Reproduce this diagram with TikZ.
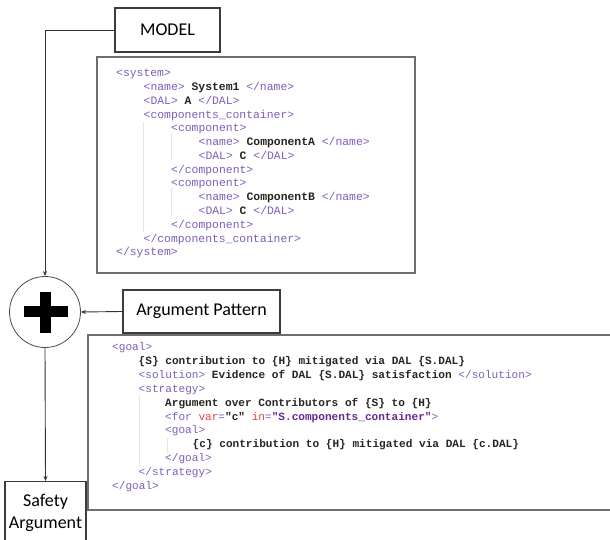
\documentclass[tikz,border=0pt]{standalone}
\usepackage{fontspec}
\setmainfont{Carlito}
\newfontfamily\codefont{Liberation Mono}
\usetikzlibrary{arrows.meta}
\definecolor{tagc}{RGB}{125,95,185}
\definecolor{txtc}{RGB}{40,36,32}
\definecolor{attrc}{RGB}{228,68,60}
\definecolor{valc}{RGB}{105,40,150}
\definecolor{boxc}{RGB}{110,110,110}
\definecolor{lblc}{RGB}{60,60,60}
\newcommand\tg[1]{\textcolor{tagc}{#1}}
\newcommand\bt[1]{\textcolor{txtc}{\bfseries #1}}
\newcommand\at[1]{\textcolor{attrc}{#1}}
\newcommand\vl[1]{\textcolor{valc}{\bfseries #1}}
\begin{document}
\begin{tikzpicture}[x=1pt,y=-1pt,
  lbl/.style={draw=lblc,line width=1.1pt,font=\fontsize{18}{20}\selectfont,fill=white},
  codeA/.style={anchor=base west,inner sep=0pt,font=\codefont\fontsize{11.4}{13}\selectfont},
  codeB/.style={anchor=base west,inner sep=0pt,font=\codefont\fontsize{11.1}{13}\selectfont},
  cbox/.style={draw=boxc,line width=1.6pt},
  guide/.style={draw=black!10,line width=0.6pt},
  conn/.style={draw=black!80,line width=0.9pt,-{Stealth[length=5pt,width=4pt]}}]
\clip (0,0) rectangle (610,540);
\fill[white] (0,0) rectangle (610,540);

% code box 1
\draw[cbox] (97,57) rectangle (415,273);
\draw[guide] (143.5,122) -- (143.5,232);
\draw[guide] (171,133) -- (171,160);
\draw[guide] (171,188) -- (171,215);
\node[codeA] (a1) at (116,77) {\tg{<system>}};
\node[codeA] (a2) at (143.5,90.75) {\tg{<name>} \bt{System1} \tg{</name>}};
\node[codeA] (a3) at (143.5,104.5) {\tg{<DAL>} \bt{A} \tg{</DAL>}};
\node[codeA] (a4) at (143.5,118.25) {\tg{<components\_container>}};
\node[codeA] (a5) at (171,132) {\tg{<component>}};
\node[codeA] (a6) at (198.5,145.75) {\tg{<name>} \bt{ComponentA} \tg{</name>}};
\node[codeA] (a7) at (198.5,159.5) {\tg{<DAL>} \bt{C} \tg{</DAL>}};
\node[codeA] (a8) at (171,173.25) {\tg{</component>}};
\node[codeA] (a9) at (171,187) {\tg{<component>}};
\node[codeA] (a10) at (198.5,200.75) {\tg{<name>} \bt{ComponentB} \tg{</name>}};
\node[codeA] (a11) at (198.5,214.5) {\tg{<DAL>} \bt{C} \tg{</DAL>}};
\node[codeA] (a12) at (171,228.25) {\tg{</component>}};
\node[codeA] (a13) at (143.5,242) {\tg{</components\_container>}};
\node[codeA] (a14) at (116,255.75) {\tg{</system>}};

% code box 2
\draw[cbox] (88,335) rectangle (640,510);
\draw[guide] (139,395) -- (139,467);
\draw[guide] (167,438) -- (167,453);
\node[codeB] (b1) at (112,350.5) {\tg{<goal>}};
\node[codeB] (b2) at (138.5,364.4) {\bt{\{S\} contribution to \{H\} mitigated via DAL \{S.DAL\}}};
\node[codeB] (b3) at (138.5,378.3) {\tg{<solution>} \bt{Evidence of DAL \{S.DAL\} satisfaction} \tg{</solution>}};
\node[codeB] (b4) at (138.5,392.2) {\tg{<strategy>}};
\node[codeB] (b5) at (165,406.1) {\bt{Argument over Contributors of \{S\} to \{H\}}};
\node[codeB] (b6) at (165,420) {\tg{<for} \at{var}\tg{=}\bt{"c"} \at{in}\tg{=}\vl{"S.components\_container"}\tg{>}};
\node[codeB] (b7) at (165,433.9) {\tg{<goal>}};
\node[codeB] (b8) at (192.5,447.8) {\bt{\{c\} contribution to \{H\} mitigated via DAL \{c.DAL\}}};
\node[codeB] (b9) at (165,461.7) {\tg{</goal>}};
\node[codeB] (b10) at (138.5,475.6) {\tg{</strategy>}};
\node[codeB] (b11) at (112,489.5) {\tg{</goal>}};

% labels
\node[lbl,minimum width=105pt,minimum height=44pt] (model) at (167.5,30) {MODEL};
\node[lbl,minimum width=157pt,minimum height=43pt] (pattern) at (201.5,311.5) {Argument Pattern};
\node[lbl,minimum width=81pt,minimum height=62pt,align=center,anchor=north,inner sep=0pt,
  font=\fontsize{18}{22}\selectfont] (safety) at (45.5,481) {Safety\\Argument};

% combiner
\node[draw=black!70,line width=0.8pt,circle,minimum size=71pt,inner sep=0pt] (plus) at (45,312) {};
\fill[black] (40,292) rectangle (51,333);
\fill[black] (24,306) rectangle (68,317);

% connectors
\draw[conn] (model.west) -| (plus.north);
\draw[conn] (pattern.west) -- (plus.east);
\draw[conn] (plus.south) -- (safety.north);
\end{tikzpicture}
\end{document}
